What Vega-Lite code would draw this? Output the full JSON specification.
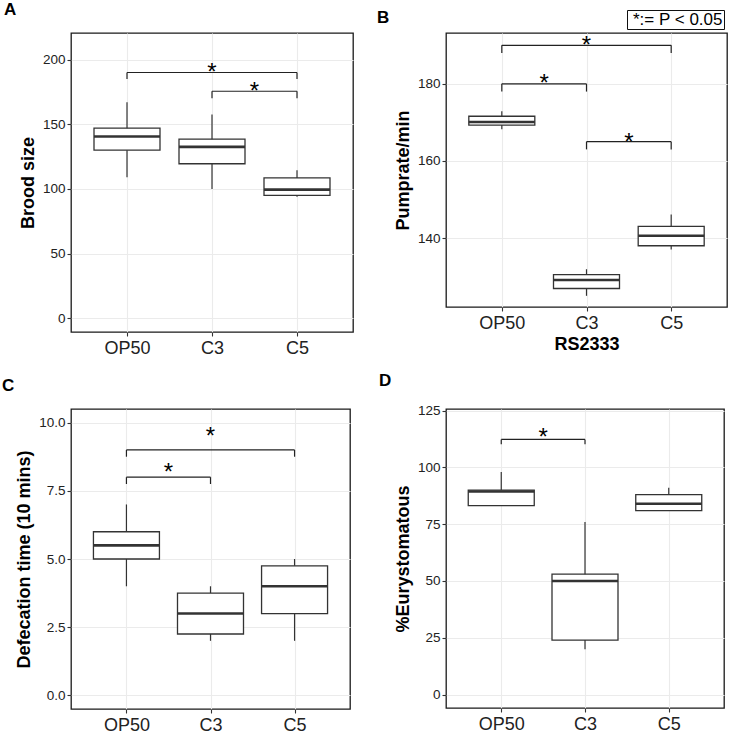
{
  "$schema": "https://vega.github.io/schema/vega-lite/v6.json",
  "padding": {"left": 1, "top": 0, "right": 0, "bottom": 0},
  "background": "white",
  "config": {
    "font": "Liberation Sans",
    "view": {"stroke": "#1a1a1a", "strokeWidth": 1.3},
    "axis": {"domain": false, "gridColor": "#ebebeb", "gridWidth": 1.1, "tickColor": "#333333", "tickSize": 4, "tickWidth": 1.1, "labelColor": "#222222", "labelFont": "Liberation Sans", "titleFont": "Liberation Sans", "titleFontWeight": "bold", "titleFontSize": 18, "titleColor": "#000000"},
    "axisX": {"labelFontSize": 18, "labelPadding": 3, "titlePadding": 3},
    "axisY": {"labelFontSize": 13.5, "labelPadding": 2, "titlePadding": 5},
    "title": {"anchor": "start", "frame": "group", "fontSize": 17, "fontWeight": "bold", "font": "Liberation Sans", "baseline": "alphabetic", "offset": 14, "color": "#000000"}
  },
  "datasets": {
    "boxes": [
      {"panel": "A", "group": "OP50", "pos": 1, "low": 109, "q1": 130, "median": 140.5, "q3": 147, "high": 167},
      {"panel": "A", "group": "C3", "pos": 2, "low": 100, "q1": 119.5, "median": 132.5, "q3": 138.5, "high": 157.5},
      {"panel": "A", "group": "C5", "pos": 3, "low": 94, "q1": 95, "median": 99.5, "q3": 108.5, "high": 114.5},
      {"panel": "B", "group": "OP50", "pos": 1, "low": 168.2, "q1": 169.3, "median": 170.1, "q3": 171.6, "high": 172.9},
      {"panel": "B", "group": "C3", "pos": 2, "low": 125.0, "q1": 126.9, "median": 129.1, "q3": 130.5, "high": 131.9},
      {"panel": "B", "group": "C5", "pos": 3, "low": 137.0, "q1": 138.0, "median": 140.6, "q3": 143.0, "high": 146.1},
      {"panel": "C", "group": "OP50", "pos": 1, "low": 4, "q1": 5, "median": 5.5, "q3": 6, "high": 7},
      {"panel": "C", "group": "C3", "pos": 2, "low": 2, "q1": 2.25, "median": 3, "q3": 3.75, "high": 4},
      {"panel": "C", "group": "C5", "pos": 3, "low": 2, "q1": 3, "median": 4, "q3": 4.75, "high": 5},
      {"panel": "D", "group": "OP50", "pos": 1, "low": 83, "q1": 83.2, "median": 89.4, "q3": 90, "high": 98},
      {"panel": "D", "group": "C3", "pos": 2, "low": 20, "q1": 24, "median": 50, "q3": 53, "high": 76},
      {"panel": "D", "group": "C5", "pos": 3, "low": 81, "q1": 81, "median": 84, "q3": 88, "high": 91}
    ],
    "brackets": [
      {"panel": "A", "x1": 1, "x2": 3, "xm": 2, "y": 190, "yend": 185, "ystar": 195.3, "sig": "*:= P < 0.05"},
      {"panel": "A", "x1": 2, "x2": 3, "xm": 2.5, "y": 175.5, "yend": 170, "ystar": 180.7, "sig": "*:= P < 0.05"},
      {"panel": "B", "x1": 1, "x2": 3, "xm": 2, "y": 190, "yend": 188, "ystar": 191.7, "sig": "*:= P < 0.05"},
      {"panel": "B", "x1": 1, "x2": 2, "xm": 1.5, "y": 180, "yend": 178, "ystar": 181.7, "sig": "*:= P < 0.05"},
      {"panel": "B", "x1": 2, "x2": 3, "xm": 2.5, "y": 165, "yend": 163, "ystar": 166.6, "sig": "*:= P < 0.05"},
      {"panel": "C", "x1": 1, "x2": 3, "xm": 2, "y": 9, "yend": 8.75, "ystar": 9.72, "sig": "*:= P < 0.05"},
      {"panel": "C", "x1": 1, "x2": 2, "xm": 1.5, "y": 8, "yend": 7.75, "ystar": 8.4, "sig": "*:= P < 0.05"},
      {"panel": "D", "x1": 1, "x2": 2, "xm": 1.5, "y": 112.3, "yend": 110.2, "ystar": 116, "sig": "*:= P < 0.05"}
    ]
  },
  "columns": 2,
  "spacing": {"column": 22, "row": 12},
  "resolve": {"scale": {"color": "independent"}, "legend": {"color": "independent"}},
  "concat": [
    {
      "width": 282, "height": 299,
      "title": {"text": "A", "dx": -67},
      "layer": [
        {"data": {"name": "boxes"}, "transform": [{"filter": "datum.panel == 'A'"}],
         "mark": {"type": "rule", "color": "#333333", "strokeWidth": 1.2},
         "encoding": {
           "x": {"field": "pos", "type": "quantitative", "scale": {"domain": [0.4, 3.6], "nice": false, "zero": false}, "axis": {"values": [1, 2, 3], "title": null, "labelExpr": "datum.value == 1 ? 'OP50' : datum.value == 2 ? 'C3' : 'C5'"}},
           "y": {"field": "low", "type": "quantitative", "scale": {"domain": [-10.5, 220.5], "nice": false, "zero": false}, "axis": {"values": [0, 50, 100, 150, 200], "title": "Brood size"}},
           "y2": {"field": "high"}}},
        {"data": {"name": "boxes"}, "transform": [{"filter": "datum.panel == 'A'"}],
         "mark": {"type": "bar", "size": 66, "fill": "white", "stroke": "#333333", "strokeWidth": 1.3},
         "encoding": {"x": {"field": "pos", "type": "quantitative"}, "y": {"field": "q1", "type": "quantitative"}, "y2": {"field": "q3"}}},
        {"data": {"name": "boxes"}, "transform": [{"filter": "datum.panel == 'A'"}],
         "mark": {"type": "tick", "orient": "horizontal", "size": 66, "thickness": 2.6, "color": "#333333", "opacity": 1},
         "encoding": {"x": {"field": "pos", "type": "quantitative"}, "y": {"field": "median", "type": "quantitative"}}},
        {"data": {"name": "brackets"}, "transform": [{"filter": "datum.panel == 'A'"}],
         "mark": {"type": "rule", "color": "#222222", "strokeWidth": 1.2},
         "encoding": {"x": {"field": "x1", "type": "quantitative"}, "x2": {"field": "x2"}, "y": {"field": "y", "type": "quantitative"}}},
        {"data": {"name": "brackets"}, "transform": [{"filter": "datum.panel == 'A'"}],
         "mark": {"type": "rule", "color": "#222222", "strokeWidth": 1.2},
         "encoding": {"x": {"field": "x1", "type": "quantitative"}, "y": {"field": "yend", "type": "quantitative"}, "y2": {"field": "y"}}},
        {"data": {"name": "brackets"}, "transform": [{"filter": "datum.panel == 'A'"}],
         "mark": {"type": "rule", "color": "#222222", "strokeWidth": 1.2},
         "encoding": {"x": {"field": "x2", "type": "quantitative"}, "y": {"field": "yend", "type": "quantitative"}, "y2": {"field": "y"}}},
        {"data": {"name": "brackets"}, "transform": [{"filter": "datum.panel == 'A'"}],
         "mark": {"type": "text", "text": "*", "fontSize": 24, "baseline": "alphabetic", "dy": 14, "color": "#000000"},
         "encoding": {"x": {"field": "xm", "type": "quantitative"}, "y": {"field": "ystar", "type": "quantitative"}}}
      ]
    },
    {
      "width": 281, "height": 274,
      "title": {"text": "B", "dx": -69, "offset": -17},
      "layer": [
        {"data": {"name": "boxes"}, "transform": [{"filter": "datum.panel == 'B'"}],
         "mark": {"type": "rule", "color": "#333333", "strokeWidth": 1.2},
         "encoding": {
           "x": {"field": "pos", "type": "quantitative", "scale": {"domain": [0.4, 3.6], "nice": false, "zero": false}, "axis": {"values": [1, 2, 3], "title": "RS2333", "labelExpr": "datum.value == 1 ? 'OP50' : datum.value == 2 ? 'C3' : 'C5'"}},
           "y": {"field": "low", "type": "quantitative", "scale": {"domain": [122.1, 193.2], "nice": false, "zero": false}, "axis": {"values": [140, 160, 180], "title": "Pumprate/min"}},
           "y2": {"field": "high"}}},
        {"data": {"name": "boxes"}, "transform": [{"filter": "datum.panel == 'B'"}],
         "mark": {"type": "bar", "size": 66, "fill": "white", "stroke": "#333333", "strokeWidth": 1.3},
         "encoding": {"x": {"field": "pos", "type": "quantitative"}, "y": {"field": "q1", "type": "quantitative"}, "y2": {"field": "q3"}}},
        {"data": {"name": "boxes"}, "transform": [{"filter": "datum.panel == 'B'"}],
         "mark": {"type": "tick", "orient": "horizontal", "size": 66, "thickness": 2.6, "color": "#333333", "opacity": 1},
         "encoding": {"x": {"field": "pos", "type": "quantitative"}, "y": {"field": "median", "type": "quantitative"}}},
        {"data": {"name": "brackets"}, "transform": [{"filter": "datum.panel == 'B'"}],
         "mark": {"type": "rule", "color": "#222222", "strokeWidth": 1.2},
         "encoding": {"x": {"field": "x1", "type": "quantitative"}, "x2": {"field": "x2"}, "y": {"field": "y", "type": "quantitative"}}},
        {"data": {"name": "brackets"}, "transform": [{"filter": "datum.panel == 'B'"}],
         "mark": {"type": "rule", "color": "#222222", "strokeWidth": 1.2},
         "encoding": {"x": {"field": "x1", "type": "quantitative"}, "y": {"field": "yend", "type": "quantitative"}, "y2": {"field": "y"}}},
        {"data": {"name": "brackets"}, "transform": [{"filter": "datum.panel == 'B'"}],
         "mark": {"type": "rule", "color": "#222222", "strokeWidth": 1.2},
         "encoding": {"x": {"field": "x2", "type": "quantitative"}, "y": {"field": "yend", "type": "quantitative"}, "y2": {"field": "y"}}},
        {"data": {"name": "brackets"}, "transform": [{"filter": "datum.panel == 'B'"}],
         "mark": {"type": "text", "text": "*", "fontSize": 24, "baseline": "alphabetic", "dy": 14},
         "encoding": {"x": {"field": "xm", "type": "quantitative"}, "y": {"field": "ystar", "type": "quantitative"},
           "color": {"field": "sig", "type": "nominal", "scale": {"range": ["#000000"]},
             "legend": {"title": null, "orient": "none", "legendX": 181, "legendY": -23, "strokeColor": "#111111", "padding": 1, "symbolSize": 0.0001, "symbolOpacity": 0, "symbolStrokeWidth": 0, "labelOffset": -12, "labelFontSize": 17, "labelColor": "#000000", "labelFont": "Liberation Sans", "labelExpr": "datum.label + '  '"}}}}
      ]
    },
    {
      "width": 279, "height": 300,
      "title": {"text": "C", "dx": -69},
      "layer": [
        {"data": {"name": "boxes"}, "transform": [{"filter": "datum.panel == 'C'"}],
         "mark": {"type": "rule", "color": "#333333", "strokeWidth": 1.2},
         "encoding": {
           "x": {"field": "pos", "type": "quantitative", "scale": {"domain": [0.4, 3.6], "nice": false, "zero": false}, "axis": {"values": [1, 2, 3], "title": null, "labelExpr": "datum.value == 1 ? 'OP50' : datum.value == 2 ? 'C3' : 'C5'"}},
           "y": {"field": "low", "type": "quantitative", "scale": {"domain": [-0.5, 10.5], "nice": false, "zero": false}, "axis": {"values": [0, 2.5, 5, 7.5, 10], "format": ".1f", "title": "Defecation time (10 mins)"}},
           "y2": {"field": "high"}}},
        {"data": {"name": "boxes"}, "transform": [{"filter": "datum.panel == 'C'"}],
         "mark": {"type": "bar", "size": 66, "fill": "white", "stroke": "#333333", "strokeWidth": 1.3},
         "encoding": {"x": {"field": "pos", "type": "quantitative"}, "y": {"field": "q1", "type": "quantitative"}, "y2": {"field": "q3"}}},
        {"data": {"name": "boxes"}, "transform": [{"filter": "datum.panel == 'C'"}],
         "mark": {"type": "tick", "orient": "horizontal", "size": 66, "thickness": 2.6, "color": "#333333", "opacity": 1},
         "encoding": {"x": {"field": "pos", "type": "quantitative"}, "y": {"field": "median", "type": "quantitative"}}},
        {"data": {"name": "brackets"}, "transform": [{"filter": "datum.panel == 'C'"}],
         "mark": {"type": "rule", "color": "#222222", "strokeWidth": 1.2},
         "encoding": {"x": {"field": "x1", "type": "quantitative"}, "x2": {"field": "x2"}, "y": {"field": "y", "type": "quantitative"}}},
        {"data": {"name": "brackets"}, "transform": [{"filter": "datum.panel == 'C'"}],
         "mark": {"type": "rule", "color": "#222222", "strokeWidth": 1.2},
         "encoding": {"x": {"field": "x1", "type": "quantitative"}, "y": {"field": "yend", "type": "quantitative"}, "y2": {"field": "y"}}},
        {"data": {"name": "brackets"}, "transform": [{"filter": "datum.panel == 'C'"}],
         "mark": {"type": "rule", "color": "#222222", "strokeWidth": 1.2},
         "encoding": {"x": {"field": "x2", "type": "quantitative"}, "y": {"field": "yend", "type": "quantitative"}, "y2": {"field": "y"}}},
        {"data": {"name": "brackets"}, "transform": [{"filter": "datum.panel == 'C'"}],
         "mark": {"type": "text", "text": "*", "fontSize": 24, "baseline": "alphabetic", "dy": 14, "color": "#000000"},
         "encoding": {"x": {"field": "xm", "type": "quantitative"}, "y": {"field": "ystar", "type": "quantitative"}}}
      ]
    },
    {
      "width": 278, "height": 299,
      "title": {"text": "D", "dx": -67},
      "layer": [
        {"data": {"name": "boxes"}, "transform": [{"filter": "datum.panel == 'D'"}],
         "mark": {"type": "rule", "color": "#333333", "strokeWidth": 1.2},
         "encoding": {
           "x": {"field": "pos", "type": "quantitative", "scale": {"domain": [0.4, 3.6], "nice": false, "zero": false}, "axis": {"values": [1, 2, 3], "title": null, "labelExpr": "datum.value == 1 ? 'OP50' : datum.value == 2 ? 'C3' : 'C5'"}},
           "y": {"field": "low", "type": "quantitative", "scale": {"domain": [-5.9, 125.7], "nice": false, "zero": false}, "axis": {"values": [0, 25, 50, 75, 100, 125], "title": "%Eurystomatous"}},
           "y2": {"field": "high"}}},
        {"data": {"name": "boxes"}, "transform": [{"filter": "datum.panel == 'D'"}],
         "mark": {"type": "bar", "size": 66, "fill": "white", "stroke": "#333333", "strokeWidth": 1.3},
         "encoding": {"x": {"field": "pos", "type": "quantitative"}, "y": {"field": "q1", "type": "quantitative"}, "y2": {"field": "q3"}}},
        {"data": {"name": "boxes"}, "transform": [{"filter": "datum.panel == 'D'"}],
         "mark": {"type": "tick", "orient": "horizontal", "size": 66, "thickness": 2.6, "color": "#333333", "opacity": 1},
         "encoding": {"x": {"field": "pos", "type": "quantitative"}, "y": {"field": "median", "type": "quantitative"}}},
        {"data": {"name": "brackets"}, "transform": [{"filter": "datum.panel == 'D'"}],
         "mark": {"type": "rule", "color": "#222222", "strokeWidth": 1.2},
         "encoding": {"x": {"field": "x1", "type": "quantitative"}, "x2": {"field": "x2"}, "y": {"field": "y", "type": "quantitative"}}},
        {"data": {"name": "brackets"}, "transform": [{"filter": "datum.panel == 'D'"}],
         "mark": {"type": "rule", "color": "#222222", "strokeWidth": 1.2},
         "encoding": {"x": {"field": "x1", "type": "quantitative"}, "y": {"field": "yend", "type": "quantitative"}, "y2": {"field": "y"}}},
        {"data": {"name": "brackets"}, "transform": [{"filter": "datum.panel == 'D'"}],
         "mark": {"type": "rule", "color": "#222222", "strokeWidth": 1.2},
         "encoding": {"x": {"field": "x2", "type": "quantitative"}, "y": {"field": "yend", "type": "quantitative"}, "y2": {"field": "y"}}},
        {"data": {"name": "brackets"}, "transform": [{"filter": "datum.panel == 'D'"}],
         "mark": {"type": "text", "text": "*", "fontSize": 24, "baseline": "alphabetic", "dy": 14, "color": "#000000"},
         "encoding": {"x": {"field": "xm", "type": "quantitative"}, "y": {"field": "ystar", "type": "quantitative"}}}
      ]
    }
  ]
}
